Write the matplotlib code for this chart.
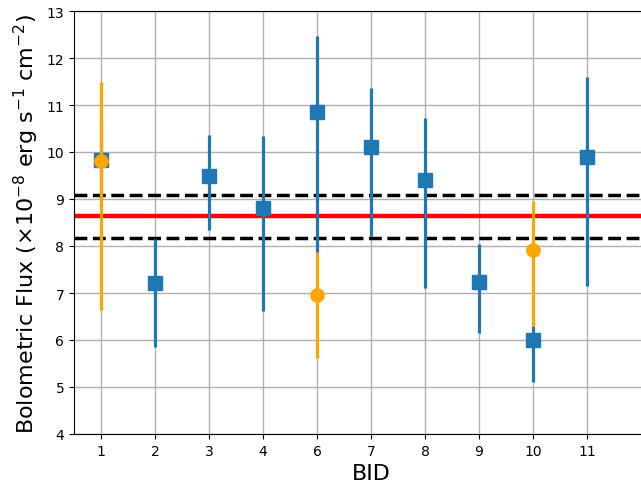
import matplotlib
matplotlib.use('Agg')
import matplotlib.pyplot as plt
import numpy as np

# BID labels and flux values (1e-8 erg/s/cm^2)
bids = ['1', '2', '3', '4', '6', '7', '8', '9', '10', '11']
blue_flux = [9.83, 7.21, 9.49, 8.81, 10.85, 10.11, 9.40, 7.23, 6.00, 9.90]
blue_lo = [9.00, 5.85, 8.34, 6.62, 7.85, 8.21, 7.11, 6.15, 5.11, 7.15]
blue_hi = [10.70, 8.15, 10.36, 10.34, 12.47, 11.36, 10.72, 8.04, 6.30, 11.60]

orange_idx = [0, 4, 8]
orange_flux = [9.81, 6.96, 7.91]
orange_lo = [6.64, 5.62, 6.30]
orange_hi = [11.49, 7.87, 8.96]

mean_flux = 8.64
band_lo = 8.17
band_hi = 9.09

fig = plt.figure(figsize=(6.41, 4.89), dpi=100)
ax = fig.add_axes([74 / 641, 54 / 489, 594 / 641, 423 / 489])

x = np.arange(len(bids))
blue_flux = np.array(blue_flux)
ax.axhline(mean_flux, color='red', lw=3.2, zorder=1.5)
ax.axhline(band_hi, color='black', ls='--', lw=2.5, zorder=1.5)
ax.axhline(band_lo, color='black', ls='--', lw=2.5, zorder=1.5)

yerr_b = [blue_flux - np.array(blue_lo), np.array(blue_hi) - blue_flux]
ax.errorbar(x, blue_flux, yerr=yerr_b, fmt='s', color='#1f77b4', ms=10,
            elinewidth=2.3, capsize=0, zorder=2)

orange_flux = np.array(orange_flux)
yerr_o = [orange_flux - np.array(orange_lo), np.array(orange_hi) - orange_flux]
ax.errorbar(x[orange_idx], orange_flux, yerr=yerr_o, fmt='o', color='orange',
            ms=9.5, elinewidth=2.3, capsize=0, zorder=3)

ax.set_xticks(x)
ax.set_xticklabels(bids)
ax.set_xlim(-0.5, 10.5)
ax.set_ylim(4, 13)
ax.grid(True, color='#b0b0b0', lw=1)
ax.set_axisbelow(True)
ax.spines['right'].set_visible(False)
ax.tick_params(labelsize=10)
ax.set_xlabel('BID', fontsize=16)
ax.set_ylabel(r'Bolometric Flux ($\times10^{-8}$ erg s$^{-1}$ cm$^{-2}$)', fontsize=16)

fig.savefig('out.png', dpi=100)
